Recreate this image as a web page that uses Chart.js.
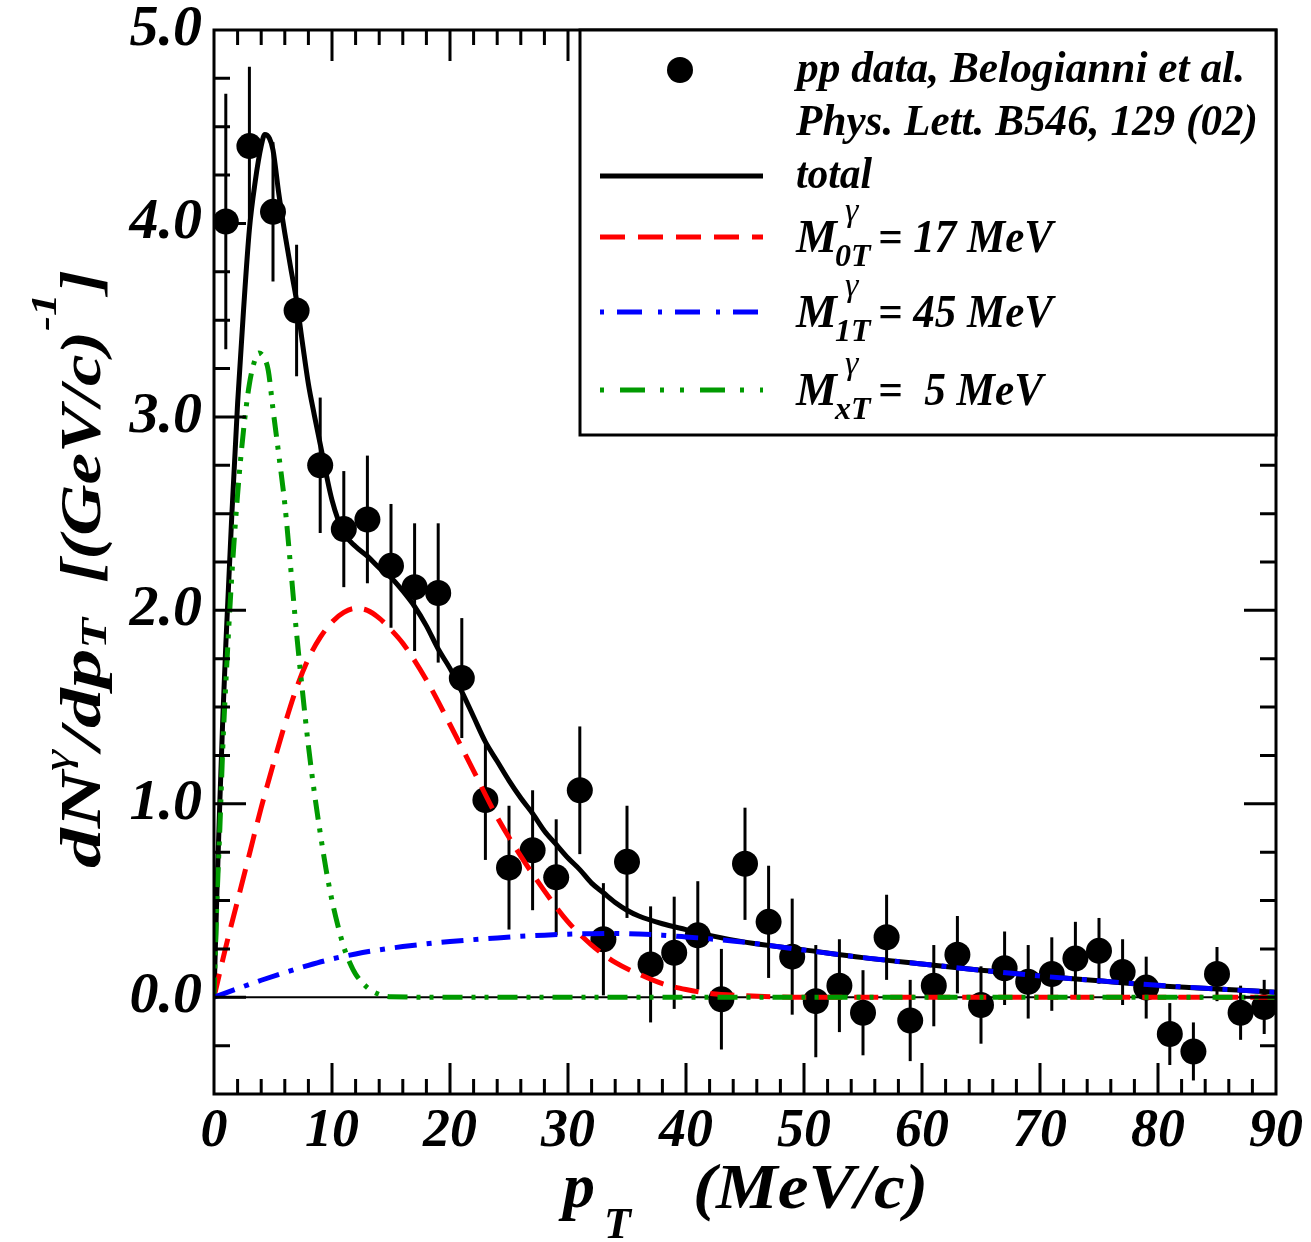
<!DOCTYPE html>
<html>
<head>
<meta charset="utf-8">
<script src="https://cdn.jsdelivr.net/npm/chart.js@4/dist/chart.umd.min.js"></script>
<style>
html, body { margin: 0; padding: 0; background: #fff; }
#chart { display: block; }
</style>
</head>
<body>
<canvas id="chart" width="1311" height="1242"></canvas>
<script>
var FONT = '"Liberation Serif", "Times New Roman", serif';

// pp data, Belogianni et al. (p_T in MeV/c)
var dataX = [1, 3, 5, 7, 9, 11, 13, 15, 17, 19, 21, 23, 25, 27, 29, 31, 33, 35, 37, 39, 41, 43, 45,
	47, 49, 51, 53, 55, 57, 59, 61, 63, 65, 67, 69, 71, 73, 75, 77, 79, 81, 83, 85, 87, 89];
var dataY = [4.01, 4.40, 4.06, 3.55, 2.75, 2.42, 2.47, 2.23, 2.12, 2.09, 1.65, 1.02, 0.67, 0.76, 0.62,
	1.07, 0.30, 0.70, 0.17, 0.23, 0.32, -0.01, 0.69, 0.39, 0.21, -0.02, 0.06, -0.08, 0.31, -0.12,
	0.06, 0.22, -0.04, 0.15, 0.08, 0.12, 0.20, 0.24, 0.13, 0.05, -0.19, -0.28, 0.12, -0.08, -0.05];
var dataErr = [0.66, 0.41, 0.36, 0.34, 0.35, 0.30, 0.33, 0.32, 0.33, 0.36, 0.31, 0.31, 0.32, 0.31, 0.30,
	0.33, 0.29, 0.29, 0.30, 0.29, 0.28, 0.26, 0.29, 0.29, 0.30, 0.29, 0.24, 0.22, 0.22, 0.21,
	0.21, 0.20, 0.20, 0.19, 0.19, 0.19, 0.19, 0.17, 0.17, 0.16, 0.16, 0.15, 0.14, 0.14, 0.14];

// total
var totalX = [0, 0.25, 0.5, 0.75, 1, 1.5, 2, 2.5, 3, 3.5, 4, 4.3, 4.7, 5, 5.5, 6, 6.5, 7, 7.5, 8, 8.5, 9,
	10, 11, 12, 13, 14, 15, 16, 17, 18, 19, 20, 21, 22, 23, 24, 25, 26, 27, 28, 29, 30, 31, 32, 33,
	34, 35, 36, 38, 40, 42, 45, 50, 55, 60, 65, 70, 75, 80, 85, 90];
var totalY = [0, 0.55, 1.02, 1.45, 1.82, 2.48, 3.07, 3.55, 3.97, 4.22, 4.4, 4.46, 4.44, 4.38, 4.15, 3.95,
	3.77, 3.6, 3.38, 3.17, 3.01, 2.86, 2.57, 2.4, 2.33, 2.28, 2.22, 2.17, 2.1, 2.02, 1.92, 1.8, 1.7,
	1.58, 1.45, 1.32, 1.22, 1.12, 1.03, 0.95, 0.86, 0.79, 0.72, 0.66, 0.59, 0.54, 0.49, 0.45, 0.42,
	0.38, 0.35, 0.32, 0.285, 0.245, 0.205, 0.172, 0.14, 0.11, 0.085, 0.06, 0.043, 0.026];

// M0T = 17 MeV
var m0X = [0, 1, 2, 3, 4, 5, 6, 7, 8, 9, 10, 11, 12, 13, 14, 15, 16, 18, 20, 22, 24, 26, 28, 30, 32,
	34, 36, 38, 40, 42, 45, 50, 60, 70, 80, 90];
var m0Y = [0, 0.26, 0.5, 0.74, 0.98, 1.2, 1.41, 1.6, 1.75, 1.86, 1.94, 1.99, 2.01, 2.0, 1.96, 1.9, 1.83,
	1.64, 1.41, 1.17, 0.93, 0.73, 0.55, 0.39, 0.27, 0.18, 0.12, 0.07, 0.04, 0.02, 0.008, 0, 0, 0, 0, 0];

// M1T = 45 MeV
var m1X = [0, 2, 4, 6, 8, 10, 12, 14, 16, 18, 20, 22, 24, 26, 28, 30, 32, 34, 36, 38, 40, 42, 45, 50,
	55, 60, 65, 70, 75, 80, 85, 90];
var m1Y = [0, 0.045, 0.088, 0.128, 0.165, 0.198, 0.224, 0.245, 0.262, 0.276, 0.288, 0.298, 0.307, 0.315,
	0.321, 0.326, 0.329, 0.33, 0.327, 0.321, 0.312, 0.302, 0.284, 0.244, 0.205, 0.172, 0.14, 0.11,
	0.085, 0.062, 0.043, 0.026];

// MxT = 5 MeV
var mxX = [0, 0.25, 0.5, 0.75, 1, 1.5, 2, 2.5, 3, 3.5, 3.8, 4.2, 4.6, 5, 5.5, 6, 6.5, 7, 7.5, 8, 8.5, 9,
	9.5, 10, 10.5, 11, 11.5, 12, 13, 14, 15, 20, 30, 40, 50, 60, 70, 80, 90];
var mxY = [0, 0.5, 0.88, 1.3, 1.62, 2.17, 2.6, 2.93, 3.17, 3.3, 3.33, 3.31, 3.24, 3.04, 2.8, 2.55, 2.22,
	1.88, 1.58, 1.3, 1.06, 0.85, 0.66, 0.5, 0.37, 0.26, 0.18, 0.12, 0.05, 0.015, 0.003, 0, 0, 0, 0, 0,
	0, 0, 0];

var xTickValues = [0, 10, 20, 30, 40, 50, 60, 70, 80, 90];
var yTickValues = [0, 1, 2, 3, 4, 5];

function toPoints(xs, ys) {
	return xs.map(function (x, i) { return { x: x, y: ys[i] }; });
}

function fontOf(size, weight) {
	return 'italic ' + (weight || 'bold') + ' ' + size + 'px ' + FONT;
}

// text runs (sub/superscripts) drawn on one baseline, optionally squeezed to a width
function rich(ctx, x, y, runs, width) {
	var w = 0;
	runs.forEach(function (r) {
		ctx.font = fontOf(r.size, r.weight);
		w += ctx.measureText(r.text).width;
	});
	var sx = width ? width / w : 1;
	ctx.save();
	ctx.translate(x, y);
	ctx.scale(sx, 1);
	ctx.textBaseline = 'alphabetic';
	ctx.textAlign = 'left';
	var cx = 0;
	runs.forEach(function (r) {
		ctx.font = fontOf(r.size, r.weight);
		ctx.fillText(r.text, cx, r.dy || 0);
		cx += ctx.measureText(r.text).width;
	});
	ctx.restore();
}

var legendRows = [
	{ y: 237, color: '#ff0000', dash: [25, 13], sub: '0T', rest: '= 17 MeV' },
	{ y: 312, color: '#0000ff', dash: [4, 13, 25, 16], sub: '1T', rest: '= 45 MeV' },
	{ y: 390, color: '#009a00', dash: [4, 16, 25, 15, 4, 16], sub: 'xT', rest: '=  5 MeV' }
];

var decor = {
	id: 'decor',
	beforeDatasetsDraw: function (chart) {
		var ctx = chart.ctx, xs = chart.scales.x, ys = chart.scales.y, a = chart.chartArea;
		ctx.save();
		ctx.beginPath();
		ctx.rect(a.left, a.top, a.right - a.left, a.bottom - a.top);
		ctx.clip();
		ctx.strokeStyle = '#000';
		ctx.lineWidth = 2;
		var y0 = ys.getPixelForValue(0);
		ctx.beginPath();
		ctx.moveTo(a.left, y0);
		ctx.lineTo(a.right, y0);
		ctx.stroke();
		// error bars
		ctx.lineWidth = 3;
		dataX.forEach(function (x, i) {
			var px = xs.getPixelForValue(x);
			ctx.beginPath();
			ctx.moveTo(px, ys.getPixelForValue(dataY[i] - dataErr[i]));
			ctx.lineTo(px, ys.getPixelForValue(dataY[i] + dataErr[i]));
			ctx.stroke();
		});
		ctx.restore();
	},
	afterDatasetsDraw: function (chart) {
		var ctx = chart.ctx, xs = chart.scales.x, ys = chart.scales.y, a = chart.chartArea;
		ctx.save();
		ctx.strokeStyle = '#000';
		ctx.lineWidth = 3;
		ctx.beginPath();
		var v, p, len, k;
		for (v = 2; v < 90; v += 2) {
			p = xs.getPixelForValue(v);
			len = v % 10 === 0 ? 31 : 15;
			ctx.moveTo(p, a.bottom); ctx.lineTo(p, a.bottom - len);
			ctx.moveTo(p, a.top); ctx.lineTo(p, a.top + len);
		}
		for (k = 1; k < 22; k++) {
			v = -0.5 + k * 0.25;
			p = ys.getPixelForValue(v);
			len = Math.abs(v - Math.round(v)) < 1e-6 ? 32 : 16;
			ctx.moveTo(a.left, p); ctx.lineTo(a.left + len, p);
			ctx.moveTo(a.right, p); ctx.lineTo(a.right - len, p);
		}
		ctx.stroke();
		ctx.strokeRect(a.left, a.top, a.right - a.left, a.bottom - a.top);
		ctx.restore();
	},
	afterDraw: function (chart) {
		var ctx = chart.ctx, a = chart.chartArea;
		ctx.save();

		// legend box
		var bx = 580, by = a.top, bw = a.right - bx, bh = 405;
		ctx.fillStyle = '#fff';
		ctx.fillRect(bx, by, bw, bh);
		ctx.strokeStyle = '#000';
		ctx.lineWidth = 3;
		ctx.strokeRect(bx, by, bw, bh);

		ctx.fillStyle = '#000';
		ctx.beginPath();
		ctx.arc(680, 70, 13, 0, Math.PI * 2);
		ctx.fill();
		rich(ctx, 797, 82, [{ text: 'pp data, Belogianni et al.', size: 44 }], 448);
		rich(ctx, 796, 135, [{ text: 'Phys. Lett. B546, 129 (02)', size: 44 }], 462);

		ctx.lineWidth = 5;
		ctx.beginPath();
		ctx.moveTo(600, 176); ctx.lineTo(763, 176);
		ctx.stroke();
		rich(ctx, 796, 188, [{ text: 'total', size: 44 }], 76);

		legendRows.forEach(function (r) {
			ctx.strokeStyle = r.color;
			ctx.lineWidth = 5;
			ctx.setLineDash(r.dash);
			ctx.beginPath();
			ctx.moveTo(600, r.y); ctx.lineTo(763, r.y);
			ctx.stroke();
			ctx.setLineDash([]);
			var base = r.y + 15;
			ctx.fillStyle = '#000';
			rich(ctx, 796, base, [{ text: 'M', size: 46 }]);
			rich(ctx, 845, base - 31, [{ text: 'γ', size: 34, weight: 'normal' }]);
			rich(ctx, 835, base + 14, [{ text: r.sub, size: 32 }]);
			rich(ctx, 878, base, [{ text: r.rest, size: 46 }], r.sub === 'xT' ? 165 : 175);
		});

		// axis titles
		ctx.fillStyle = '#000';
		rich(ctx, 563, 1207, [{ text: 'p', size: 64 }]);
		rich(ctx, 604, 1238, [{ text: 'T', size: 44 }]);
		rich(ctx, 693, 1208, [{ text: '(MeV/c)', size: 64 }], 235);

		ctx.save();
		ctx.translate(100, 868);
		ctx.rotate(-Math.PI / 2);
		rich(ctx, 0, 0, [
			{ text: 'dN', size: 57 },
			{ text: 'γ', size: 38, dy: -30, weight: 'normal' },
			{ text: '/dp', size: 57 },
			{ text: 'T', size: 36, dy: 6 }
		], 250);
		ctx.restore();

		ctx.save();
		ctx.translate(100, 583);
		ctx.rotate(-Math.PI / 2);
		rich(ctx, 0, 0, [
			{ text: '[(GeV/c)', size: 57 },
			{ text: '-1', size: 36, dy: -44 },
			{ text: ']', size: 57 }
		], 313);
		ctx.restore();

		ctx.restore();
	}
};

function curve(label, xs, ys, color, dash, order) {
	return {
		label: label,
		data: toPoints(xs, ys),
		borderColor: color,
		borderWidth: 5,
		borderDash: dash,
		pointRadius: 0,
		fill: false,
		cubicInterpolationMode: 'monotone',
		order: order
	};
}

var xTickFont = { family: FONT, size: 54, style: 'italic', weight: 'bold' };
var yTickFont = { family: FONT, size: 58, style: 'italic', weight: 'bold' };

new Chart(document.getElementById('chart'), {
	type: 'line',
	data: {
		datasets: [
			{
				label: 'pp data',
				data: toPoints(dataX, dataY),
				showLine: false,
				pointRadius: 13,
				pointBackgroundColor: '#000',
				pointBorderWidth: 0,
				order: 10
			},
			curve('total', totalX, totalY, '#000', [], 4),
			curve('M0T', m0X, m0Y, '#ff0000', [24, 12], 3),
			curve('MxT', mxX, mxY, '#009a00', [20, 9, 4, 9, 4, 9], 2),
			curve('M1T', m1X, m1Y, '#0000ff', [22, 10, 5, 10], 1)
		]
	},
	options: {
		responsive: false,
		animation: false,
		devicePixelRatio: 1,
		layout: { padding: { top: 30, right: 35, bottom: 0, left: 0 } },
		plugins: {
			legend: { display: false },
			tooltip: { enabled: false }
		},
		scales: {
			x: {
				type: 'linear',
				min: 0,
				max: 90,
				grid: { display: false, drawTicks: false },
				border: { display: false },
				afterBuildTicks: function (s) {
					s.ticks = xTickValues.map(function (v) { return { value: v }; });
				},
				afterFit: function (s) {
					s.height = 148;
					s.paddingLeft = 0;
					s.paddingRight = 0;
				},
				ticks: {
					autoSkip: false,
					maxRotation: 0,
					padding: 6,
					color: '#000',
					font: xTickFont,
					callback: function (v) { return String(v); }
				}
			},
			y: {
				type: 'linear',
				min: -0.5,
				max: 5.0,
				grid: { display: false, drawTicks: false },
				border: { display: false },
				afterBuildTicks: function (s) {
					s.ticks = yTickValues.map(function (v) { return { value: v }; });
				},
				afterFit: function (s) {
					s.width = 214;
					s.paddingTop = 0;
					s.paddingBottom = 0;
				},
				ticks: {
					autoSkip: false,
					padding: 12,
					color: '#000',
					font: yTickFont,
					callback: function (v) { return v.toFixed(1); }
				}
			}
		}
	},
	plugins: [decor]
});
</script>
</body>
</html>
